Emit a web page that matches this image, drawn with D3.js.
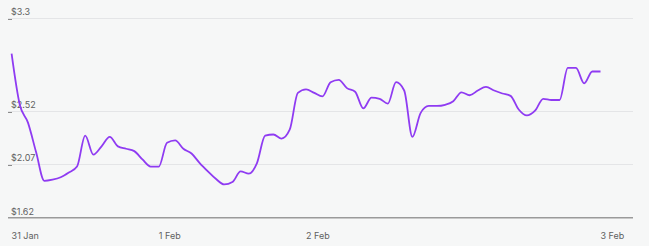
<!DOCTYPE html>
<html>
<head>
<meta charset="utf-8">
<script src="https://cdn.jsdelivr.net/npm/d3@7"></script>
<style>
  html, body { margin: 0; padding: 0; background: #f6f7f7; }
  svg { display: block; font-family: Inter, 'Open Sans', sans-serif; }
  .grid line { stroke: #e4e5e7; stroke-width: 1; }
  .tick-mark { stroke: #8c8c8c; stroke-width: 1; }
  .lbl { fill: #5f5f5f; font-size: 9px; }
</style>
</head>
<body>
<svg class="chart"></svg>
<script>
// Chart values (index = sample number, 18 samples per day)
var prices = [
  3.00, 2.57, 2.42, 2.17, 1.93, 1.94, 1.96, 2.00, 2.05, 2.31,
  2.15, 2.22, 2.30, 2.22, 2.20, 2.18, 2.11, 2.05, 2.05, 2.25,
  2.27, 2.20, 2.16, 2.08, 2.01, 1.945, 1.90, 1.92, 2.01, 1.99,
  2.08, 2.31, 2.32, 2.285, 2.36, 2.67, 2.70, 2.67, 2.64, 2.76,
  2.78, 2.71, 2.68, 2.54, 2.63, 2.62, 2.58, 2.76, 2.69, 2.30,
  2.50, 2.56, 2.56, 2.57, 2.60, 2.675, 2.65, 2.69, 2.72, 2.69,
  2.665, 2.645, 2.53, 2.48, 2.52, 2.62, 2.61, 2.61, 2.88, 2.88,
  2.75, 2.85, 2.85
];
var dayTicks = [0, 18, 36, 72];
var dayLabels = ['31 Jan', '1 Feb', '2 Feb', '3 Feb'];
var priceTicks = [1.62, 2.07, 2.52, 3.3];
var priceLabels = ['$1.62', '$2.07', '$2.52', '$3.3'];

var width = 649;
var height = 246;
var left = 8;
var right = 633;

var svg = d3.select('.chart')
  .attr('width', width)
  .attr('height', height);

var x = d3.scaleLinear()
  .domain([0, prices.length - 1])
  .range([11.6, 600.5]);

var y = d3.scaleLinear()
  .domain([1.62, 3.3])
  .range([217.7, 18]);

// Horizontal gridlines (skip the baseline, drawn as the axis)
var grid = svg.append('g').attr('class', 'grid');
grid.selectAll('line')
  .data(priceTicks.slice(1))
  .enter()
  .append('line')
  .attr('x1', left)
  .attr('x2', right)
  .attr('y1', function (d) { return Math.round(y(d)) + 0.5; })
  .attr('y2', function (d) { return Math.round(y(d)) + 0.5; });

// small tick marks on the left
svg.selectAll('.tick-mark')
  .data(priceTicks.slice(1))
  .enter()
  .append('line')
  .attr('class', 'tick-mark')
  .attr('x1', left)
  .attr('x2', left + 4)
  .attr('y1', function (d) { return Math.round(y(d)) + 1.5; })
  .attr('y2', function (d) { return Math.round(y(d)) + 1.5; });

// Price labels
svg.selectAll('.ylbl')
  .data(priceTicks)
  .enter()
  .append('text')
  .attr('class', 'lbl ylbl')
  .attr('x', 11)
  .attr('y', function (d) { return y(d) - 3; })
  .text(function (d, i) { return priceLabels[i]; });

// Baseline
svg.append('line')
  .attr('x1', left)
  .attr('x2', right)
  .attr('y1', y(1.62))
  .attr('y2', y(1.62))
  .attr('stroke', '#9a9a9a')
  .attr('stroke-width', 1.4);

// Date labels
svg.selectAll('.xlbl')
  .data(dayTicks)
  .enter()
  .append('text')
  .attr('class', 'lbl xlbl')
  .attr('x', function (d) { return x(d); })
  .attr('y', 239)
  .text(function (d, i) { return dayLabels[i]; });

// Price line
var line = d3.line()
  .x(function (d, i) { return x(i); })
  .y(function (d) { return y(d); })
  .curve(d3.curveMonotoneX);

svg.append('path')
  .datum(prices)
  .attr('fill', 'none')
  .attr('stroke', '#8f3bf2')
  .attr('stroke-width', 1.8)
  .attr('stroke-linejoin', 'round')
  .attr('d', line);
</script>
</body>
</html>
